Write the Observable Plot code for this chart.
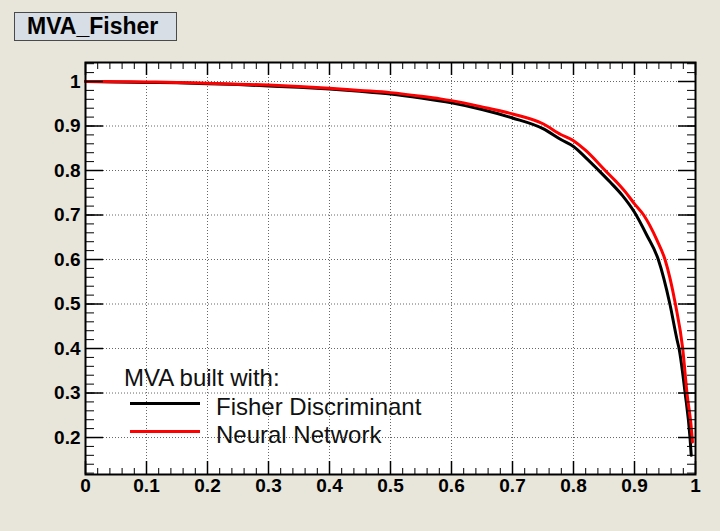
<!DOCTYPE html>
<html>
<head>
<meta charset="utf-8">
<script src="https://cdn.jsdelivr.net/npm/d3@7"></script>
<script src="https://cdn.jsdelivr.net/npm/@observablehq/plot@0.6"></script>
<style>
  body { margin: 0; background: #e8e5da; }
  #wrap { position: relative; width: 720px; height: 531px; background: #e8e5da; font-family: "Liberation Sans", Arial, sans-serif; overflow: hidden; }
  #title { position: absolute; left: 14px; top: 12px; width: 163px; height: 29px; box-sizing: border-box; background: #d7dee5; border: 1px solid #4a4a4a; font-weight: bold; font-size: 23px; line-height: 27px; padding-left: 12px; color: #000; }
  .leg { position: absolute; font-size: 24px; line-height: 28px; color: #111; white-space: nowrap; }
  .legline { position: absolute; height: 3px; width: 70px; left: 130px; }
  #chart svg { display: block; }
</style>
</head>
<body>
<div id="wrap">
  <div id="chart"></div>
  <div id="title">MVA_Fisher</div>
  <div class="leg" style="left:124px; top:364px;">MVA built with:</div>
  <div class="legline" style="top:402px; background:#000;"></div>
  <div class="leg" style="left:216px; top:393px;">Fisher Discriminant</div>
  <div class="legline" style="top:430px; background:#ff0000;"></div>
  <div class="leg" style="left:216px; top:421px;">Neural Network</div>
</div>
<script>
// Signal efficiency (x) and background rejection (y)
const fisherEff = [0, 0.05, 0.1, 0.15, 0.2, 0.25, 0.3, 0.35, 0.4, 0.45, 0.5, 0.55, 0.6, 0.65, 0.7, 0.75, 0.78, 0.8, 0.82, 0.84, 0.86, 0.88, 0.9, 0.92, 0.939, 0.958, 0.970, 0.973, 0.983, 0.991, 0.993];
const fisherRej = [1.0, 0.999, 0.998, 0.997, 0.995, 0.993, 0.990, 0.987, 0.983, 0.978, 0.972, 0.963, 0.952, 0.937, 0.918, 0.894, 0.869, 0.854, 0.829, 0.802, 0.774, 0.744, 0.706, 0.655, 0.60, 0.50, 0.418, 0.40, 0.30, 0.20, 0.16];
const nnEff = [0, 0.05, 0.1, 0.15, 0.2, 0.25, 0.3, 0.35, 0.4, 0.45, 0.5, 0.55, 0.582, 0.6, 0.65, 0.7, 0.75, 0.779, 0.8, 0.82, 0.852, 0.87, 0.885, 0.9, 0.915, 0.937, 0.95, 0.967, 0.979, 0.986, 0.9945, 0.995];
const nnRej = [1.0, 0.9995, 0.999, 0.998, 0.996, 0.994, 0.992, 0.989, 0.985, 0.980, 0.975, 0.967, 0.961, 0.957, 0.943, 0.927, 0.905, 0.881, 0.867, 0.845, 0.80, 0.775, 0.752, 0.725, 0.70, 0.643, 0.60, 0.50, 0.40, 0.30, 0.20, 0.19];

const xTickLabels = [0, 0.1, 0.2, 0.3, 0.4, 0.5, 0.6, 0.7, 0.8, 0.9, 1];
const yTickLabels = [0.2, 0.3, 0.4, 0.5, 0.6, 0.7, 0.8, 0.9, 1];
const xMinor = d3.range(0, 50.5).map(i => i * 0.02);
const yMinor = d3.range(6, 52.5).map(i => i * 0.02);

const fisher = fisherEff.map((x, i) => ({x, y: fisherRej[i]}));
const nn = nnEff.map((x, i) => ({x, y: nnRej[i]}));

const W = 720, H = 531, mL = 85, mR = 25, mT = 62, mB = 57;
const fw = W - mL - mR, fh = H - mT - mB;
const fmt = d => String(+d.toFixed(2));

const chart = Plot.plot({
  width: W, height: H,
  marginLeft: mL, marginRight: mR, marginTop: mT, marginBottom: mB,
  style: { background: "transparent", fontFamily: "'Liberation Sans', Arial, sans-serif", color: "#000" },
  x: { domain: [0, 1] },
  y: { domain: [0.1169, 1.0427] },
  marks: [
    Plot.frame({ fill: "white", stroke: null }),
    Plot.ruleX(xTickLabels, { x: d => d, stroke: "#666", strokeDasharray: "1,2" }),
    Plot.ruleY(yTickLabels, { y: d => d, stroke: "#666", strokeDasharray: "1,2" }),
    Plot.line(fisher, { x: "x", y: "y", stroke: "black", strokeWidth: 3, curve: "monotone-x" }),
    Plot.line(nn, { x: "x", y: "y", stroke: "#ff0000", strokeWidth: 3, curve: "monotone-x" }),
    // bottom ticks
    Plot.tickX(xMinor, { x: d => d, insetTop: fh - 6, stroke: "black" }),
    Plot.tickX(xTickLabels, { x: d => d, insetTop: fh - 13, stroke: "black", strokeWidth: 1.5 }),
    // top ticks
    Plot.tickX(xMinor, { x: d => d, insetBottom: fh - 7, stroke: "black" }),
    Plot.tickX(xTickLabels, { x: d => d, insetBottom: fh - 13, stroke: "black", strokeWidth: 1.5 }),
    // left ticks
    Plot.tickY(yMinor, { y: d => d, insetRight: fw - 9, stroke: "black" }),
    Plot.tickY(yTickLabels, { y: d => d, insetRight: fw - 18, stroke: "black", strokeWidth: 1.5 }),
    // right ticks
    Plot.tickY(yMinor, { y: d => d, insetLeft: fw - 8, stroke: "black" }),
    Plot.tickY(yTickLabels, { y: d => d, insetLeft: fw - 17, stroke: "black", strokeWidth: 1.5 }),
    Plot.frame({ stroke: "black", strokeWidth: 2 }),
    Plot.axisX(xTickLabels, { anchor: "bottom", tickSize: 0, tickPadding: 4, fontSize: 19, fontWeight: "bold", label: null, tickFormat: fmt }),
    Plot.axisY(yTickLabels, { anchor: "left", tickSize: 0, tickPadding: 5, fontSize: 19, fontWeight: "bold", label: null, tickFormat: fmt })
  ]
});
document.getElementById("chart").appendChild(chart);
</script>
</body>
</html>
